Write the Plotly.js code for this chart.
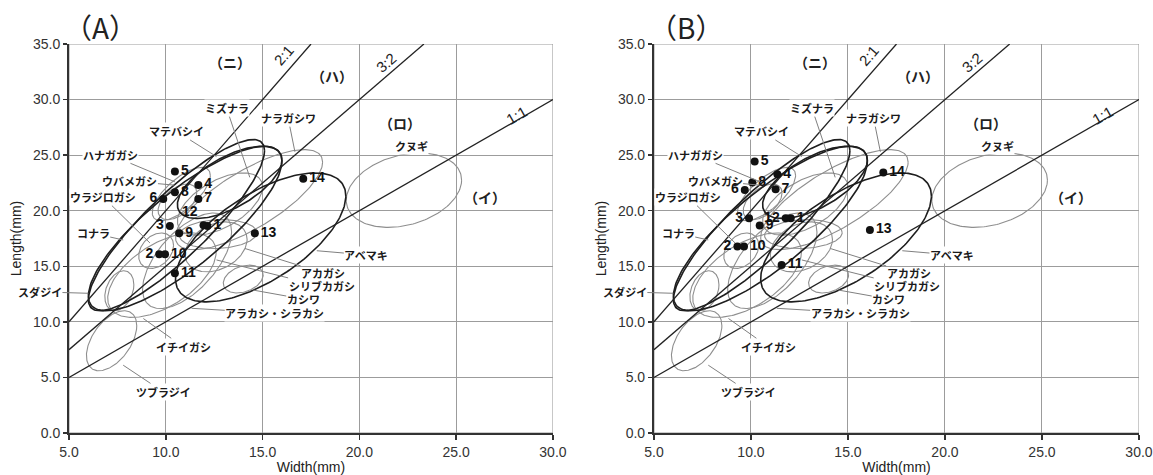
<!DOCTYPE html>
<html><head><meta charset="utf-8">
<script src="https://cdn.plot.ly/plotly-3.0.1.min.js"></script>
<style>body{margin:0;background:#fff}#chart{width:1153px;height:475px}</style>
</head><body><div id="chart"></div>
<script>
// ---------- data ----------
const pointIds = ['1','2','3','4','5','6','7','8','9','10','11','12','13','14'];
const widthA  = [12.15, 9.66, 10.21, 11.68, 10.47, 9.87, 11.68, 10.47, 10.69, 9.96, 10.47, 11.95, 14.60, 17.10];
const lengthA = [18.63, 16.08, 18.63, 22.32, 23.52, 21.06, 21.06, 21.67, 17.97, 16.08, 14.37, 18.70, 17.97, 22.87];
const widthB  = [12.05, 9.30, 9.90, 11.36, 10.19, 9.68, 11.27, 10.07, 10.45, 9.64, 11.58, 11.79, 16.13, 16.82];
const lengthB = [19.32, 16.77, 19.32, 23.29, 24.42, 21.87, 21.94, 22.53, 18.66, 16.77, 15.12, 19.32, 18.27, 23.43];

// ratio lines Length = r * Width
const ratioValues = [1, 1.5, 2];
const ratioLabels = ['1:1', '3:2', '2:1'];

// species ranges as ellipses: centre, half width, half length, correlation
const ellipseNames = ['クヌギ','ナラガシワ','ミズナラ','ウバメガシ','ハナガガシ','ウラジロガシ','イチイガシ','アラカシ・シラカシ','アカガシ','シリブカガシ','カシワ','ツブラジイ','スダジイ','コナラ','コナラ2','マテバシイ','アベマキ'];
const ellipseCx  = [22.30, 14.30, 12.80, 10.60, 10.80,  9.50,  9.80, 11.10, 12.60, 12.70, 14.00,  7.20,  7.60, 10.55, 11.00, 13.30, 14.90];
const ellipseCy  = [21.85, 21.00, 20.60, 20.80, 21.50, 16.40, 14.20, 15.50, 16.75, 17.90, 13.85,  8.30, 12.80, 18.70, 18.40, 22.55, 17.60];
const ellipseSx  = [ 2.98,  3.80,  2.20,  1.00,  1.50,  0.90,  2.80,  2.30,  1.60,  2.00,  1.03,  1.30,  0.75,  4.55,  5.00,  2.70,  4.40];
const ellipseSy  = [ 3.35,  4.50,  2.80,  1.60,  2.40,  1.60,  3.80,  4.30,  2.25,  1.30,  1.25,  2.70,  1.80,  7.70,  7.40,  3.25,  5.80];
const ellipseRho = [ 0.27,  0.75,  0.55,  0.50,  0.70,  0.30,  0.55,  0.60,  0.30,  0.10,  0.30,  0.50,  0.30,  0.87,  0.82,  0.62,  0.64];
const darkEllipses = ['コナラ','コナラ2','マテバシイ','アベマキ'];

const panelTitles = ['（A）', '（B）'];
const xTitle = 'Width(mm)';
const yTitle = 'Length(mm)';

// ---------- label layout ----------
const speciesLabels = [
  {t:'ミズナラ',   x:13.14, y:29.23, hx:14.34, hy:23.0, bg:true},
  {t:'ナラガシワ', x:16.32, y:28.33, hx:16.67, hy:25.3, bg:true},
  {t:'マテバシイ', x:10.56, y:27.13, hx:12.62, hy:24.87, bg:true},
  {t:'ハナガガシ', x:7.12,  y:25.03, hx:10.47, hy:22.6, bg:true},
  {t:'ウバメガシ', x:8.15,  y:22.66, hx:10.45, hy:22.3, bg:false},
  {t:'ウラジロガシ', x:6.77, y:21.22, hx:9.18, hy:17.1, bg:true},
  {t:'コナラ',     x:6.25,  y:17.97, hx:7.8,  hy:17.37, bg:true},
  {t:'スダジイ',   x:3.5,   y:12.7,  hx:6.0,  hy:12.57, bg:true},
  {t:'アベマキ',   x:20.36, y:16.02, hx:17.8, hy:16.4, bg:true},
  {t:'アカガシ',   x:18.13, y:14.40, hx:14.09, hy:16.6, bg:false},
  {t:'シリブカガシ', x:18.05, y:13.20, hx:12.62, hy:15.57, bg:false},
  {t:'カシワ',     x:17.1,  y:12.05, hx:14.51, hy:12.86, bg:false},
  {t:'アラカシ・シラカシ', x:15.63, y:10.77, hx:11.33, hy:11.22, bg:true},
  {t:'イチイガシ', x:10.9,  y:7.76,  hx:8.84, hy:10.3, bg:true},
  {t:'ツブラジイ', x:9.87,  y:3.7,   hx:7.8,  hy:6.1, bg:true},
  {t:'クヌギ',     x:22.7,  y:25.8,  hx:null, hy:null, bg:true}
];
const regionLabels = [
  {t:'（ニ）', x:13.3, y:33.4},
  {t:'（ハ）', x:18.6, y:32.1},
  {t:'（ロ）', x:22.1, y:27.9},
  {t:'（イ）', x:26.5, y:21.2}
];
const ratioLabelPos = [
  {x:28.1, y:28.6, a:-30},
  {x:21.4, y:33.3, a:-41},
  {x:16.06, y:34.0, a:-49}
];
const posA = ['middle right','middle left','middle left','middle right','middle right','middle left','middle right','middle right','middle right','middle right','middle right','top left','middle right','middle right'];
const posB = ['middle right','middle left','middle left','middle right','middle right','middle left','middle right','middle right','middle right','middle right','middle right','middle left','middle right','middle right'];

// ---------- build ----------
const JP = '"Noto Sans CJK JP", sans-serif';
const SANS = '"Liberation Sans", Arial, sans-serif';
const traces = [];
const axesPairs = [['x','y'], ['x2','y2']];

function ellipsePts(i) {
  const xs = [], ys = [];
  const n = 200, s = Math.sqrt(1 - ellipseRho[i]*ellipseRho[i]);
  for (let k = 0; k <= n; k++) {
    const t = 2*Math.PI*k/n;
    xs.push(ellipseCx[i] + ellipseSx[i]*Math.cos(t));
    ys.push(ellipseCy[i] + ellipseSy[i]*(ellipseRho[i]*Math.cos(t) + s*Math.sin(t)));
  }
  return [xs, ys];
}

axesPairs.forEach(([xa, ya], p) => {
  const order = ellipseNames.map((n,i)=>i).sort((a,b)=> (darkEllipses.includes(ellipseNames[a])?1:0) - (darkEllipses.includes(ellipseNames[b])?1:0));
  order.forEach(i => {
    const [xs, ys] = ellipsePts(i);
    const dark = darkEllipses.includes(ellipseNames[i]);
    traces.push({x: xs, y: ys, xaxis: xa, yaxis: ya, mode: 'lines', hoverinfo: 'skip', showlegend: false,
      line: {color: dark ? '#1e1e1e' : '#8e8e8e', width: dark ? 1.6 : 1.1}});
  });
  ratioValues.forEach((r, j) => {
    const x1 = Math.min(30, 35 / r);
    traces.push({x: [5, x1], y: [5*r, x1*r], xaxis: xa, yaxis: ya, mode: 'lines', hoverinfo: 'skip', showlegend: false,
      line: {color: '#222', width: 1.3}});
  });
  const W = p === 0 ? widthA : widthB, L = p === 0 ? lengthA : lengthB;
  traces.push({x: W, y: L, text: pointIds, xaxis: xa, yaxis: ya, mode: 'markers+text', showlegend: false,
    textposition: p === 0 ? posA : posB,
    textfont: {family: SANS, size: 14, color: '#111', weight: 'bold'},
    marker: {size: 8, color: '#111'}, cliponaxis: false});
});

const annotations = [];
axesPairs.forEach(([xa, ya], p) => {
  speciesLabels.forEach(l => {
    const a = {xref: xa, yref: ya, text: l.t, font: {family: JP, size: 11, color: '#1a1a1a', weight: 'bold'},
      bgcolor: l.bg ? 'white' : 'rgba(0,0,0,0)', borderpad: 0, xanchor: 'center', yanchor: 'middle'};
    if (l.hx === null) { a.x = l.x; a.y = l.y; a.showarrow = false; }
    else {
      a.x = l.hx; a.y = l.hy; a.ax = l.x; a.ay = l.y; a.axref = xa; a.ayref = ya;
      a.showarrow = true; a.arrowhead = 0; a.arrowwidth = 1; a.arrowcolor = '#808080'; a.standoff = 0; a.startstandoff = 0;
    }
    annotations.push(a);
  });
  regionLabels.forEach(l => annotations.push({xref: xa, yref: ya, x: l.x, y: l.y, text: l.t, showarrow: false,
    font: {family: JP, size: 14, color: '#222', weight: 'bold'}, bgcolor: 'white', borderpad: 0}));
  ratioLabels.forEach((t, j) => annotations.push({xref: xa, yref: ya, x: ratioLabelPos[j].x, y: ratioLabelPos[j].y, text: t,
    textangle: ratioLabelPos[j].a, showarrow: false, font: {family: SANS, size: 15, color: '#222'}}));
  annotations.push({xref: xa + ' domain', yref: 'paper', x: 0.066, y: 1, yshift: 17, text: panelTitles[p],
    showarrow: false, xanchor: 'center', yanchor: 'middle', font: {family: JP, size: 28, color: '#222'}});
});

const shapes = axesPairs.map(([xa, ya]) => ({type: 'rect', xref: xa, yref: ya, x0: 5, x1: 30, y0: 0, y1: 35,
  line: {color: '#999', width: 1}, layer: 'below'}));

function xAxis(dom, anchor) {
  return {domain: dom, anchor: anchor, range: [5, 30], dtick: 5, tick0: 5, tickformat: '.1f',
    showgrid: true, gridcolor: '#9c9c9c', gridwidth: 1, zeroline: false,
    showline: true, linecolor: '#333', linewidth: 2, ticks: 'outside', ticklen: 5, tickwidth: 1.5, tickcolor: '#333',
    tickfont: {family: SANS, size: 14, color: '#333'},
    title: {text: xTitle, font: {family: SANS, size: 14, color: '#222'}, standoff: 6}};
}
function yAxis(anchor) {
  return {anchor: anchor, range: [0, 35], dtick: 5, tick0: 0, tickformat: '.1f',
    showgrid: true, gridcolor: '#9c9c9c', gridwidth: 1, zeroline: false,
    showline: true, linecolor: '#333', linewidth: 2, ticks: 'outside', ticklen: 4, tickwidth: 1.5, tickcolor: '#333',
    tickfont: {family: SANS, size: 14, color: '#333'},
    title: {text: yTitle, font: {family: SANS, size: 14, color: '#222'}, standoff: 8}};
}

const layout = {
  width: 1153, height: 475, margin: {l: 69, r: 14, t: 44, b: 42},
  paper_bgcolor: 'white', plot_bgcolor: 'white', showlegend: false,
  xaxis: xAxis([0, 0.4523], 'y'), yaxis: yAxis('x'),
  xaxis2: xAxis([0.5467, 1], 'y2'), yaxis2: yAxis('x2'),
  annotations: annotations, shapes: shapes
};

Plotly.newPlot('chart', traces, layout, {displayModeBar: false, staticPlot: true});
</script></body></html>
